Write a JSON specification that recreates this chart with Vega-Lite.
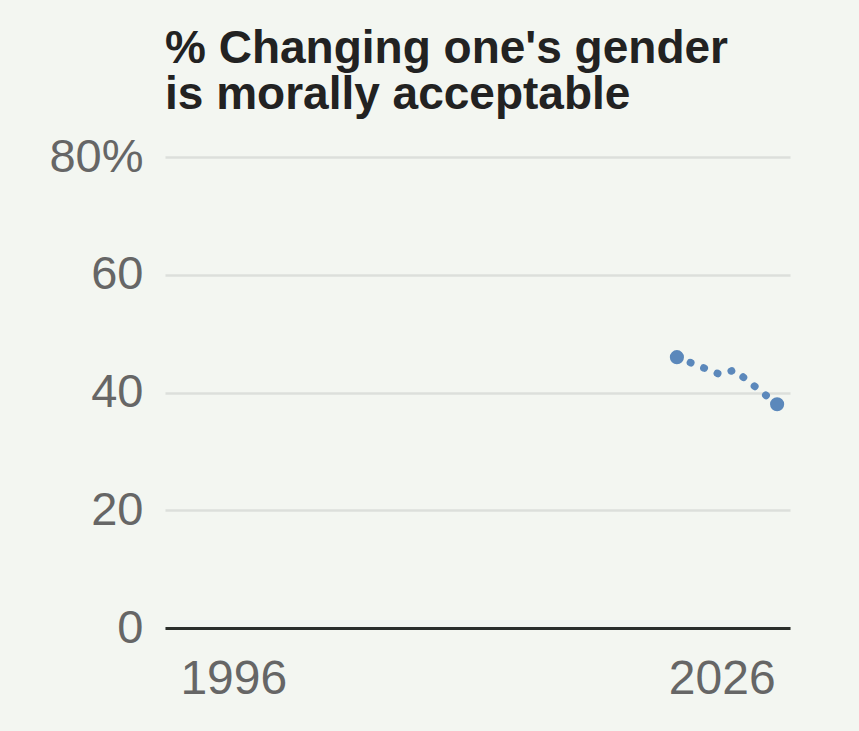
{
  "$schema": "https://vega.github.io/schema/vega-lite/v6.json",
  "autosize": {"type": "none"},
  "padding": {"left": 165, "top": 157, "right": 69, "bottom": 103},
  "width": 625,
  "height": 471,
  "background": "#f3f6f1",
  "config": {
    "view": {"stroke": null},
    "font": "Liberation Sans"
  },
  "title": {
    "text": ["% Changing one's gender", "is morally acceptable"],
    "anchor": "start",
    "frame": "group",
    "font": "Liberation Sans",
    "fontSize": 46,
    "fontWeight": "bold",
    "color": "#222222",
    "lineHeight": 46,
    "offset": 14
  },
  "data": {
    "values": [
      {"year": 2021.05, "pct": 46.0},
      {"year": 2023.2, "pct": 43.1},
      {"year": 2023.95, "pct": 43.8},
      {"year": 2026.1, "pct": 38.0}
    ]
  },
  "encoding": {
    "x": {
      "field": "year",
      "type": "quantitative",
      "scale": {"domain": [1995.25, 2026.75], "nice": false, "zero": false},
      "axis": {
        "title": null,
        "values": [1996, 2026],
        "format": "d",
        "ticks": false,
        "grid": false,
        "domainColor": "#2b2f2b",
        "domainWidth": 3,
        "labelFont": "Liberation Sans",
        "labelFontSize": 48,
        "labelColor": "#666666",
        "labelPadding": 27,
        "labelAlign": {"expr": "datum.value == 1996 ? 'left' : 'right'"},
        "labelFlush": false
      }
    },
    "y": {
      "field": "pct",
      "type": "quantitative",
      "scale": {"domain": [0, 80], "nice": false},
      "axis": {
        "title": null,
        "values": [0, 20, 40, 60, 80],
        "labelExpr": "datum.value == 80 ? '80%' : datum.label",
        "ticks": false,
        "domain": false,
        "gridColor": "#dcdfdb",
        "gridWidth": 2.5,
        "labelFont": "Liberation Sans",
        "labelFontSize": 47,
        "labelColor": "#666666",
        "labelPadding": 22
      }
    }
  },
  "layer": [
    {
      "mark": {
        "type": "line",
        "color": "#5b88bb",
        "strokeWidth": 7.5,
        "strokeCap": "round",
        "strokeDash": [0.5, 14]
      }
    },
    {
      "transform": [{"filter": "datum.year < 2022 || datum.year > 2026"}],
      "mark": {"type": "point", "filled": true, "opacity": 1, "color": "#5b88bb", "size": 200}
    }
  ]
}
